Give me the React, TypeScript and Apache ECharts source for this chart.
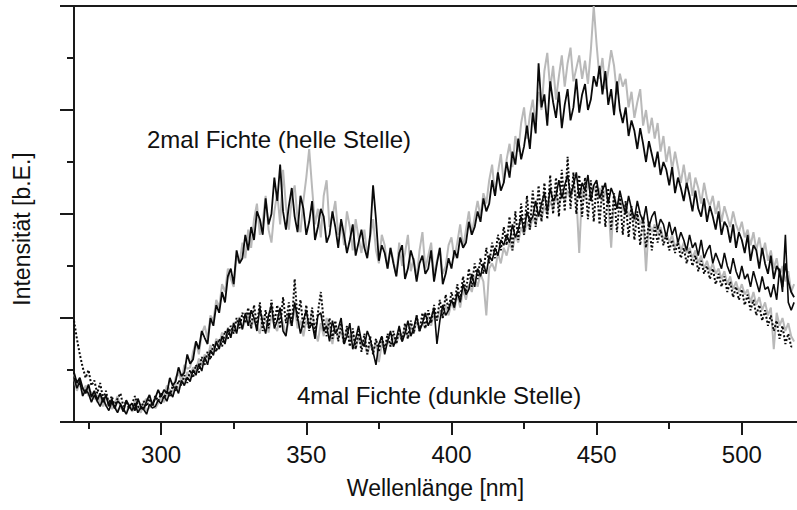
import React, { useEffect, useRef } from "react";
import * as echarts from "echarts";

const START_NM = 270;
const STEP_NM = 1;
const X_MIN = 270;
const X_MAX = 519;
const Y_MIN = 0;
const Y_MAX = 8;

const xMajorTicks = [300, 350, 400, 450, 500];
const xMinorTicks = [275, 325, 375, 425, 475];

const xTitle = "Wellenlänge [nm]";
const yTitle = "Intensität [b.E.]";
const labelHelle = "2mal Fichte (helle Stelle)";
const labelDunkle = "4mal Fichte (dunkle Stelle)";

// 2mal Fichte (helle Stelle), grey
const helleGrau = [
  0.85, 0.6, 0.75, 0.5, 0.7, 0.62, 0.4, 0.55, 0.38, 0.5,
  0.3, 0.45, 0.42, 0.25, 0.36, 0.5, 0.28, 0.22, 0.4, 0.33,
  0.25, 0.4, 0.3, 0.2, 0.38, 0.45, 0.27, 0.34, 0.5, 0.36,
  0.55, 0.48, 0.7, 0.62, 0.58, 0.85, 0.95, 0.78, 1.1, 1.02,
  1.05, 1.35, 1.55, 1.3, 1.7, 1.85, 1.6, 2.05, 1.95, 2.35,
  2.2, 2.65, 2.5, 2.95, 2.75, 2.6, 3.2, 3.05, 3.45, 3.15,
  3.7, 3.35, 3.9, 4.2, 3.6, 3.85, 4.35, 3.7, 3.45, 4.05,
  4.4, 3.8, 4.85, 4.15, 3.7, 4.3, 4.55, 3.9, 3.65, 4.25,
  4.7, 5.25, 4.5, 3.8, 4.1, 3.55, 4.35, 4.65, 3.75, 3.95,
  4.25, 3.6, 3.85, 3.4, 4.05, 3.75, 3.3, 3.9, 3.55, 3.25,
  3.7, 3.2, 3.55, 3.9, 3.3, 3.05, 3.6, 3.4, 2.95, 3.35,
  3.1, 2.8, 3.45, 3.0, 3.25, 3.6, 2.9, 3.15, 2.75, 3.3,
  3.65, 2.95, 3.2, 3.45, 2.8, 3.1, 3.35, 2.85, 3.0, 3.4,
  3.55, 3.15, 3.45, 3.8, 3.35, 3.7, 4.05, 3.6, 3.95, 4.25,
  3.95, 4.4, 4.2, 4.65, 4.95, 4.35, 4.8, 5.15, 4.6, 5.05,
  5.35, 4.9, 5.5, 5.2, 5.75, 6.05, 5.45, 5.9, 6.2, 5.7,
  6.35, 6.0, 6.75, 7.1, 6.4, 6.85, 6.2, 6.65, 7.05, 6.45,
  6.9, 7.2, 6.55, 6.8, 7.05, 6.6, 6.95, 6.5, 7.15, 8.0,
  7.25, 6.6, 7.0, 6.4, 6.75, 7.15, 6.85, 6.3, 6.7, 6.45,
  6.6, 6.05, 6.35, 5.85, 6.15, 6.4, 5.7, 6.0, 5.55, 5.85,
  5.45, 5.75, 5.2, 5.5, 5.0, 5.3, 4.85, 5.2, 4.9, 4.6,
  4.95, 4.55, 4.8, 4.35, 4.7, 4.5, 4.2, 4.6, 4.3, 4.15,
  4.35, 4.0, 4.25, 3.85, 4.15, 3.95, 3.75, 4.05, 3.8, 3.65,
  3.85, 3.55, 3.7, 3.4, 3.65, 3.3, 3.55, 3.2, 3.45, 3.1,
  3.3, 2.95, 3.15, 2.8, 3.0, 2.7, 2.9, 2.5, 2.65,
];

// 2mal Fichte (helle Stelle), black
const helleSchwarz = [
  0.95, 0.75, 0.85, 0.65, 0.55, 0.72, 0.48, 0.6, 0.42, 0.55,
  0.38, 0.52, 0.3, 0.44, 0.26, 0.4, 0.35, 0.2, 0.42, 0.3,
  0.36, 0.22, 0.45, 0.3, 0.25, 0.4, 0.52, 0.32, 0.46, 0.62,
  0.48, 0.62, 0.55, 0.85, 0.7, 0.78, 1.05, 0.88, 0.95, 1.3,
  1.12, 1.2, 1.55, 1.4, 1.75, 1.62, 1.5, 2.0, 1.85, 2.25,
  2.1, 2.5, 2.3, 2.8, 2.95, 2.65, 3.3, 3.05, 3.15, 3.6,
  3.3, 3.75, 3.5, 4.05, 3.9, 3.6, 4.3, 3.8, 4.0, 4.7,
  4.25, 4.95, 4.05, 3.7, 4.15, 4.5, 3.95, 3.65, 4.35, 4.1,
  3.6, 3.85, 4.25, 3.5, 3.75, 4.1, 3.95, 3.45, 3.6, 4.05,
  3.75, 3.35, 3.9, 3.6, 3.25, 3.5, 3.8, 3.2, 3.45, 3.7,
  3.35, 3.15, 3.6, 4.55, 3.9, 3.1, 3.4, 3.25, 2.95, 3.35,
  3.05, 2.8, 3.25, 3.4, 2.75, 2.95, 3.3, 3.1, 2.7, 3.05,
  3.2, 2.85, 2.95, 3.3, 2.7, 3.05, 3.35, 2.65, 2.85, 3.15,
  2.95, 3.3, 3.15, 3.55, 3.35, 3.45, 3.85, 3.6, 3.75, 4.05,
  3.85, 4.3, 4.05, 4.2, 4.65, 4.35, 4.8, 4.45, 4.6, 5.0,
  4.7, 5.2, 4.95, 5.45, 5.05, 5.3, 5.7, 5.25, 5.95, 5.55,
  6.9, 6.05, 6.3, 5.7, 6.55, 6.15, 5.85, 6.35, 5.65, 6.1,
  6.4, 5.8, 6.05, 6.6, 5.95, 6.3, 6.5, 6.0, 6.2, 6.65,
  6.45, 6.85, 6.3, 6.75, 6.1, 6.4, 5.9, 6.55, 6.0, 5.75,
  6.05, 5.5, 5.8, 5.6, 5.25, 5.65, 5.35, 5.0, 5.4, 5.15,
  4.9, 5.2, 4.75, 5.0, 4.85, 4.55, 4.9, 4.4, 4.7, 4.5,
  4.25, 4.6, 4.35, 4.05, 4.45, 4.1, 3.95, 4.3, 3.85, 4.15,
  3.95, 3.7, 4.05, 3.6, 3.85, 3.75, 3.45, 3.8, 3.35, 3.65,
  3.5, 3.25, 3.6, 3.1, 3.4, 3.3, 2.95, 3.35, 3.05, 2.85,
  3.2, 2.75, 3.0, 2.9, 2.6, 3.05, 2.7, 2.5, 2.4,
];

// 4mal Fichte (dunkle Stelle), black solid
const dunkleSchwarz = [
  0.85, 0.65, 0.78, 0.5, 0.62, 0.55, 0.38, 0.52, 0.4, 0.3,
  0.45, 0.32, 0.22, 0.38, 0.28, 0.18, 0.33, 0.25, 0.15, 0.3,
  0.22, 0.36, 0.18, 0.28, 0.24, 0.15, 0.34, 0.27, 0.3, 0.42,
  0.35, 0.5, 0.4, 0.58, 0.48, 0.68, 0.55, 0.8, 0.7, 0.86,
  0.78, 1.0, 0.9, 1.12, 0.98, 1.25, 1.1, 1.38, 1.28, 1.55,
  1.4, 1.65, 1.5, 1.8, 1.62, 1.9, 1.7, 2.0, 1.78, 2.1,
  1.85, 2.15, 2.0, 1.75, 2.2, 1.9, 1.7, 2.05, 2.25, 1.8,
  1.95, 2.2, 1.75, 1.65, 2.1, 1.85, 2.3, 2.0, 1.7, 1.95,
  2.15, 1.8, 1.9, 1.6, 2.05, 2.1, 1.75, 1.85, 1.55, 1.95,
  1.7, 1.8, 2.0, 1.5, 1.65, 1.9, 1.4, 1.6, 1.85, 1.55,
  1.45, 1.75, 1.6, 1.35, 1.1, 1.5, 1.65, 1.3, 1.55, 1.75,
  1.45, 1.6, 1.85, 1.55, 1.7, 1.95, 1.65, 1.8, 2.05, 1.75,
  1.9, 2.1, 1.85, 2.0, 2.2, 1.5, 1.95, 2.25, 2.05, 2.15,
  2.35, 2.2, 2.5, 2.3, 2.65, 2.45, 2.55, 2.85, 2.6, 2.95,
  2.8, 3.05, 2.85, 3.2, 3.1, 3.35, 3.2, 3.5, 3.4, 3.6,
  3.45, 3.8, 3.55, 3.7, 3.95, 3.65, 4.05, 3.85, 3.95, 4.25,
  3.95, 4.2, 4.4, 4.05, 4.5, 4.25, 4.35, 4.65, 4.3, 4.55,
  4.75, 4.35, 4.55, 4.8, 4.3, 4.6, 4.45, 4.75, 4.25, 4.55,
  4.65, 4.3, 4.45, 4.6, 4.2, 4.5, 4.35, 4.1, 4.45, 4.2,
  4.0, 4.35, 4.1, 3.9, 4.25, 4.0, 3.85, 4.15, 3.75, 3.95,
  4.05, 3.7, 3.9, 3.8, 3.55, 3.85, 3.6, 3.75, 3.45, 3.65,
  3.5, 3.3, 3.6, 3.35, 3.45, 3.2, 3.5, 3.15, 3.3, 3.4,
  3.05, 3.25, 3.1, 2.95, 3.25, 3.0, 2.85, 3.15, 2.9, 2.75,
  3.0, 2.75, 2.85, 2.6, 2.9, 2.7, 2.5, 2.8, 2.55, 2.6,
  2.4, 2.65, 2.35, 2.95, 2.5, 3.6, 2.3, 2.15, 2.3,
];

// 4mal Fichte (dunkle Stelle), grey
const dunkleGrau = [
  0.92, 0.7, 0.82, 0.62, 0.68, 0.5, 0.58, 0.44, 0.52, 0.36,
  0.46, 0.3, 0.38, 0.26, 0.32, 0.2, 0.3, 0.24, 0.18, 0.32,
  0.2, 0.28, 0.24, 0.18, 0.34, 0.22, 0.28, 0.4, 0.26, 0.36,
  0.46, 0.38, 0.52, 0.6, 0.5, 0.72, 0.62, 0.82, 0.74, 0.96,
  0.86, 1.05, 0.98, 1.22, 1.08, 1.3, 1.22, 1.48, 1.35, 1.6,
  1.5, 1.72, 1.55, 1.82, 1.68, 1.92, 1.75, 2.02, 1.8, 1.95,
  2.1, 1.8, 2.0, 1.85, 1.7, 2.05, 1.95, 1.72, 2.05, 1.85,
  1.75, 2.1, 1.9, 1.7, 1.95, 1.85, 2.2, 1.8, 1.95, 1.65,
  1.95, 1.8, 2.15, 1.75, 1.55, 1.9, 1.65, 2.0, 1.8, 1.5,
  1.85, 1.6, 1.75, 1.5, 1.8, 1.6, 1.7, 1.4, 1.65, 1.45,
  1.6, 1.3, 1.5, 1.35, 1.55, 1.15, 1.5, 1.4, 1.6, 1.45,
  1.65, 1.5, 1.7, 1.55, 1.85, 1.6, 1.85, 1.7, 1.95, 1.75,
  1.9, 1.8, 2.05, 1.85, 2.1, 1.95, 2.15, 2.0, 2.25, 2.05,
  2.3, 2.15, 2.45, 2.2, 2.55, 2.35, 2.65, 2.5, 2.8, 2.6,
  2.85, 2.7, 2.05, 2.95, 3.05, 2.9, 3.25, 3.05, 3.35, 3.2,
  3.45, 3.3, 3.6, 3.45, 3.75, 3.6, 3.85, 3.7, 3.95, 3.8,
  4.05, 3.9, 4.15, 4.0, 4.25, 4.1, 4.35, 4.15, 4.4, 4.25,
  4.45, 4.3, 4.55, 4.35, 3.25, 4.5, 4.3, 4.6, 4.4, 4.55,
  4.35, 4.5, 4.25, 4.45, 4.2, 3.35, 4.35, 4.15, 4.3, 4.05,
  4.2, 3.95, 4.1, 3.85, 4.0, 3.8, 3.95, 2.9, 3.85, 3.65,
  3.8, 3.6, 3.75, 3.5, 3.65, 3.45, 3.6, 3.35, 3.5, 3.3,
  3.45, 3.25, 3.35, 3.15, 3.3, 3.05, 3.2, 2.95, 3.1, 2.9,
  3.05, 2.85, 2.95, 2.75, 2.9, 2.65, 2.8, 2.55, 2.7, 2.5,
  2.65, 2.45, 2.55, 2.3, 2.5, 2.25, 2.4, 2.15, 2.3, 2.05,
  2.2, 1.4, 2.1, 1.85, 2.0, 1.75, 1.9, 1.65, 1.55,
];

// 4mal Fichte (dunkle Stelle), black dotted
const dunklePunkt = [
  1.95, 1.6, 1.3, 1.05, 0.85, 1.0, 0.7, 0.8, 0.55, 0.75,
  0.45, 0.6, 0.35, 0.5, 0.3, 0.45, 0.55, 0.3, 0.4, 0.25,
  0.35, 0.5, 0.3, 0.25, 0.4, 0.3, 0.45, 0.3, 0.5, 0.4,
  0.55, 0.45, 0.6, 0.5, 0.7, 0.6, 0.8, 0.7, 0.9, 0.75,
  1.0, 0.85, 1.1, 0.95, 1.25, 1.1, 1.35, 1.2, 1.5, 1.35,
  1.6, 1.45, 1.75, 1.6, 1.85, 1.7, 2.0, 1.8, 2.1, 1.9,
  2.2, 1.8, 2.25, 1.85, 2.3, 1.75, 2.15, 1.8, 2.35, 1.9,
  2.25, 1.8, 2.4, 1.9, 2.3, 1.85, 2.75, 1.95, 2.35, 1.8,
  2.25, 1.75, 2.2, 1.7, 2.1, 2.5, 1.95, 1.65, 2.0, 1.6,
  1.95, 1.55, 1.9, 1.5, 1.85, 1.45, 1.8, 1.4, 1.75, 1.35,
  1.7, 1.3, 1.65, 1.3, 1.6, 1.35, 1.65, 1.4, 1.7, 1.45,
  1.75, 1.5, 1.8, 1.55, 1.9, 1.6, 1.95, 1.7, 2.05, 1.75,
  2.1, 1.8, 2.15, 1.9, 2.25, 1.95, 2.35, 2.0, 2.45, 2.15,
  2.5, 2.25, 2.65, 2.35, 2.8, 2.5, 2.95, 2.6, 3.05, 2.75,
  3.15, 2.85, 3.35, 3.05, 3.45, 3.15, 3.6, 3.3, 3.75, 3.4,
  3.95, 3.3, 4.05, 3.5, 4.2, 3.6, 4.35, 3.7, 4.45, 3.75,
  4.55, 3.85, 4.6, 3.9, 4.75, 4.0, 4.7, 3.95, 4.85, 4.05,
  5.1, 4.1, 4.8, 4.0, 4.75, 3.95, 4.7, 3.9, 4.65, 3.85,
  4.6, 3.8, 4.55, 3.75, 4.5, 3.7, 4.4, 3.65, 4.35, 3.6,
  4.25, 3.55, 4.15, 3.5, 4.05, 3.4, 3.95, 3.35, 3.85, 3.3,
  3.75, 3.45, 3.7, 3.4, 3.6, 3.3, 3.5, 3.25, 3.45, 3.15,
  3.35, 3.05, 3.3, 3.0, 3.2, 2.9, 3.1, 2.85, 3.0, 2.75,
  2.95, 2.65, 2.85, 2.6, 2.8, 2.5, 2.7, 2.4, 2.6, 2.35,
  2.55, 2.25, 2.45, 2.15, 2.35, 2.05, 2.25, 1.95, 2.15, 1.85,
  2.05, 1.75, 1.95, 1.6, 1.85, 1.5, 1.7, 1.45, 1.45,
];

const toPairs = (arr: number[]) => arr.map((v, i) => [START_NM + i * STEP_NM, v]);

const FONT = "'Liberation Sans', Arial, Helvetica, sans-serif";
const AXIS_COLOR = "#1a1a1a";
const GREY = "#b9b9b9";
const BLACK = "#0a0a0a";

export default function App() {
  const ref = useRef<HTMLDivElement>(null);

  useEffect(() => {
    if (!ref.current) return;
    const chart = echarts.init(ref.current, undefined, { renderer: "svg" });

    const lineSeries = (name: string, data: number[], color: string, type: string, width: number) => ({
      name,
      type: "line",
      data: toPairs(data),
      xAxisIndex: 0,
      yAxisIndex: 0,
      showSymbol: false,
      symbol: "none",
      silent: true,
      lineStyle: { color, width, type },
    });

    chart.setOption({
      animation: false,
      backgroundColor: "#ffffff",
      textStyle: { fontFamily: FONT },
      grid: { left: 74, top: 6, right: 0, bottom: 88, containLabel: false },
      xAxis: [
        {
          type: "value",
          min: X_MIN,
          max: X_MAX,
          position: "bottom",
          name: xTitle,
          nameLocation: "middle",
          nameGap: 54,
          nameTextStyle: { fontSize: 23, color: "#111", fontFamily: FONT },
          axisLine: { show: true, onZero: false, lineStyle: { color: AXIS_COLOR, width: 2 } },
          axisTick: {
            show: true,
            length: 13,
            customValues: xMajorTicks,
            lineStyle: { color: AXIS_COLOR, width: 2 },
          },
          axisLabel: {
            show: true,
            customValues: xMajorTicks,
            margin: 20,
            fontSize: 24,
            color: "#111",
            fontFamily: FONT,
          },
          splitLine: { show: false },
        },
        {
          type: "value",
          min: X_MIN,
          max: X_MAX,
          position: "bottom",
          axisLine: { show: false },
          axisTick: {
            show: true,
            length: 7,
            customValues: xMinorTicks,
            lineStyle: { color: AXIS_COLOR, width: 2 },
          },
          axisLabel: { show: false },
          splitLine: { show: false },
        },
        {
          type: "value",
          min: X_MIN,
          max: X_MAX,
          position: "top",
          axisLine: { show: true, onZero: false, lineStyle: { color: AXIS_COLOR, width: 2 } },
          axisTick: { show: false },
          axisLabel: { show: false },
          splitLine: { show: false },
        },
      ],
      yAxis: {
        type: "value",
        min: Y_MIN,
        max: Y_MAX,
        interval: 2,
        axisLine: { show: true, onZero: false, lineStyle: { color: AXIS_COLOR, width: 2 } },
        axisTick: { show: true, length: 14, lineStyle: { color: AXIS_COLOR, width: 2 } },
        minorTick: { show: true, splitNumber: 2, length: 7, lineStyle: { color: AXIS_COLOR, width: 2 } },
        axisLabel: { show: false },
        splitLine: { show: false },
        minorSplitLine: { show: false },
      },
      graphic: [
        {
          type: "text",
          silent: true,
          x: 22,
          y: 229,
          rotation: Math.PI / 2,
          style: {
            x: 0,
            y: 0,
            text: yTitle,
            fontSize: 23,
            fontFamily: FONT,
            fill: "#111",
            align: "center",
            verticalAlign: "middle",
          },
        },
        {
          type: "text",
          silent: true,
          style: {
            x: 147,
            y: 139,
            text: labelHelle,
            fontSize: 24,
            fontFamily: FONT,
            fill: "#111",
            align: "left",
            verticalAlign: "middle",
          },
        },
        {
          type: "text",
          silent: true,
          style: {
            x: 297,
            y: 395,
            text: labelDunkle,
            fontSize: 24,
            fontFamily: FONT,
            fill: "#111",
            align: "left",
            verticalAlign: "middle",
          },
        },
      ],
      series: [
        lineSeries("4mal grau", dunkleGrau, GREY, "solid", 2),
        lineSeries("2mal grau", helleGrau, GREY, "solid", 2),
        lineSeries("4mal schwarz", dunkleSchwarz, BLACK, "solid", 1.6),
        lineSeries("4mal gepunktet", dunklePunkt, BLACK, "dotted", 2),
        lineSeries("2mal schwarz", helleSchwarz, BLACK, "solid", 1.8),
      ],
    });

    return () => chart.dispose();
  }, []);

  return (
    <div
      ref={ref}
      style={{ position: "absolute", left: 0, top: 0, width: 797, height: 510, background: "#fff" }}
    />
  );
}
